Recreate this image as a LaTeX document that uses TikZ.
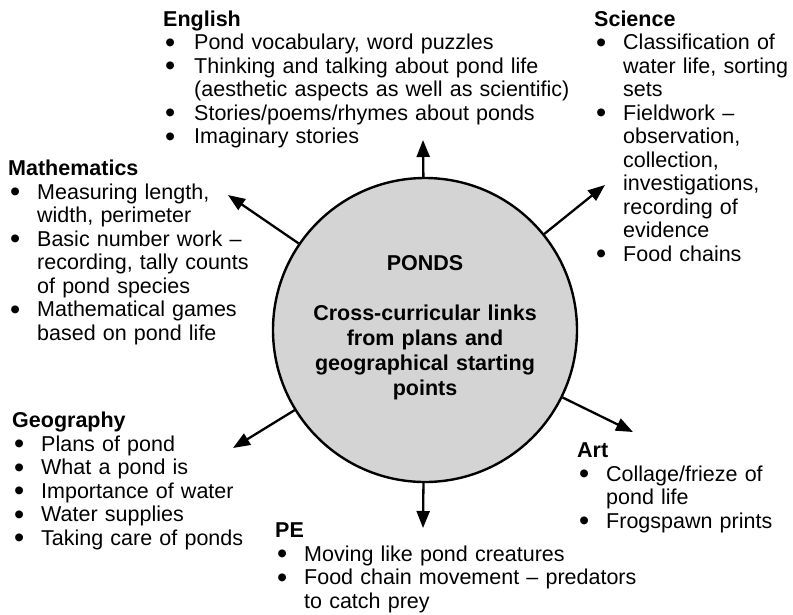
\documentclass[tikz,border=0pt]{standalone}
\usepackage{fontspec}
\setmainfont{Liberation Sans}
\usetikzlibrary{arrows.meta}
\newlength{\bind}
\setlength{\bind}{29pt}
\newcommand{\nl}{\unskip\hfil\break}
\newcommand{\bitem}{\par\hangindent=\bind\hangafter=1\noindent\makebox[\bind][l]{\hspace{2pt}\smash{\raisebox{-2.6pt}{\fontsize{29}{0}\selectfont\textbullet}}}}
\tikzset{
  block/.style={anchor=base west, inner sep=0pt, text width=430pt,
    font=\fontsize{21.5}{23.5}\selectfont},
  link/.style={line width=2.3pt, -{Triangle[length=17pt,width=13pt]}},
}
\begin{document}
\begin{tikzpicture}[x=1pt,y=-1pt]
\useasboundingbox (0,0) rectangle (793,614);
\node[circle, draw, line width=2.4pt, fill=black!17, minimum size=304pt, inner sep=0pt] (pond) at (425,330) {};
\node[anchor=base, inner sep=0pt, text width=280pt, align=center,
  font=\fontsize{21.5}{25}\selectfont\bfseries] (title) at (425,270.5)
  {PONDS\\[25pt]Cross-curricular links\\from plans and\\geographical starting\\points};

\node[block] (english) at (163,26) {\raggedright\setlength{\bind}{31pt}\textbf{English}
\bitem Pond vocabulary, word puzzles
\bitem Thinking and talking about pond life\nl(aesthetic aspects as well as scientific)
\bitem Stories/poems/rhymes about ponds
\bitem Imaginary stories\par};

\node[block] (science) at (594,26) {\raggedright\textbf{Science}
\bitem Classification of\nl water life, sorting\nl sets
\bitem Fieldwork \textendash\nl observation,\nl collection,\nl investigations,\nl recording of\nl evidence
\bitem Food chains\par};

\node[block] (maths) at (8,175.5) {\raggedright\textbf{Mathematics}
\bitem Measuring length,\nl width, perimeter
\bitem Basic number work \textendash\nl recording, tally counts\nl of pond species
\bitem Mathematical games\nl based on pond life\par};

\node[block] (geography) at (12,427.5) {\raggedright\textbf{Geography}
\bitem Plans of pond
\bitem What a pond is
\bitem Importance of water
\bitem Water supplies
\bitem Taking care of ponds\par};

\node[block] (art) at (577,457.5) {\raggedright\textbf{Art}
\bitem Collage/frieze of\nl pond life
\bitem Frogspawn prints\par};

\node[block] (pe) at (275,537.5) {\raggedright\textbf{PE}
\bitem Moving like pond creatures
\bitem Food chain movement \textendash\ predators\nl to catch prey\par};

\coordinate (tEnglish) at (423,140);
\coordinate (tScience) at (605,185);
\coordinate (tMaths) at (228,195);
\coordinate (tGeography) at (233,448);
\coordinate (tArt) at (633,432);
\coordinate (tPE) at (423,528);
\draw[link] (pond) -- (tEnglish);
\draw[link] (pond) -- (tScience);
\draw[link] (pond) -- (tMaths);
\draw[link] (pond) -- (tGeography);
\draw[link] (pond) -- (tArt);
\draw[link] (pond) -- (tPE);
\end{tikzpicture}
\end{document}
